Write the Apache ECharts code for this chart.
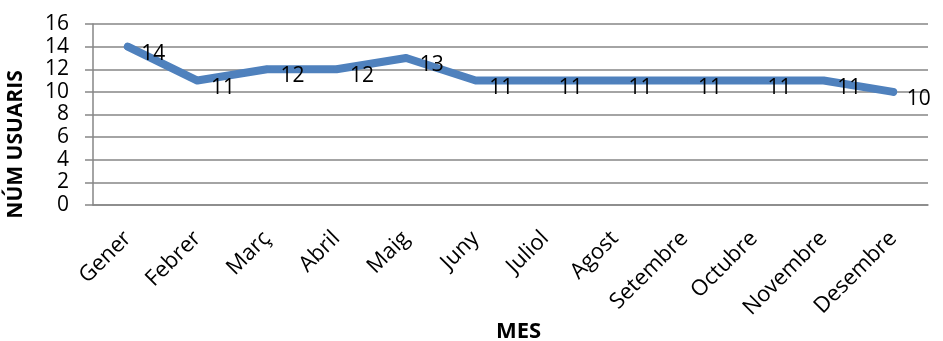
<!DOCTYPE html>
<html>
<head>
<meta charset="utf-8">
<script src="https://cdn.jsdelivr.net/npm/echarts@6/dist/echarts.min.js"></script>
<style>
    html, body { margin: 0; padding: 0; background: #fff; }
    #chart { width: 943px; height: 341px; }
</style>
</head>
<body>
<div id="chart"></div>
<script>
const months = ['Gener', 'Febrer', 'Març', 'Abril', 'Maig', 'Juny', 'Juliol', 'Agost', 'Setembre', 'Octubre', 'Novembre', 'Desembre'];
const usuaris = [14, 11, 12, 12, 13, 11, 11, 11, 11, 11, 11, 10];

const font = '"Open Sans", sans-serif';

const chart = echarts.init(document.getElementById('chart'));
chart.setOption({
    animation: false,
    grid: {
        left: 93,
        right: 15,
        top: 24,
        bottom: 136,
        outerBoundsMode: 'none'
    },
    xAxis: {
        type: 'category',
        data: months,
        name: 'MES',
        nameLocation: 'middle',
        nameGap: 116,
        nameMoveOverlap: false,
        nameTextStyle: {
            color: '#000',
            fontFamily: font,
            fontSize: 22,
            fontWeight: 'bold',
            padding: [0, 0, 0, 16]
        },
        axisLine: { lineStyle: { color: '#868686', width: 1.5 } },
        axisTick: { length: 8, lineStyle: { color: '#868686', width: 1.5 } },
        axisLabel: {
            rotate: 45,
            color: '#000',
            fontFamily: font,
            fontSize: 22,
            margin: 30
        }
    },
    yAxis: {
        type: 'value',
        min: 0,
        max: 16,
        interval: 2,
        name: 'NÚM USUARIS',
        nameLocation: 'middle',
        nameGap: 66,
        nameMoveOverlap: false,
        nameTextStyle: {
            color: '#000',
            fontFamily: font,
            fontSize: 21,
            fontWeight: 'bold',
            padding: [0, 60, 0, 0]
        },
        axisLine: { show: true, lineStyle: { color: '#868686', width: 1.5 } },
        axisTick: { show: true, length: 8, lineStyle: { color: '#868686', width: 1.5 } },
        axisLabel: {
            color: '#000',
            fontFamily: font,
            fontSize: 21,
            margin: 24
        },
        splitLine: { lineStyle: { color: '#868686', width: 1.5 } }
    },
    series: [{
        type: 'line',
        data: usuaris,
        symbol: 'circle',
        symbolSize: 7,
        showSymbol: true,
        itemStyle: { color: '#4F81BD' },
        lineStyle: { color: '#4F81BD', width: 8, cap: 'round', join: 'round' },
        label: {
            show: true,
            position: 'right',
            distance: 10,
            offset: [0, 7],
            color: '#000',
            fontFamily: font,
            fontSize: 21
        }
    }]
});
</script>
</body>
</html>
